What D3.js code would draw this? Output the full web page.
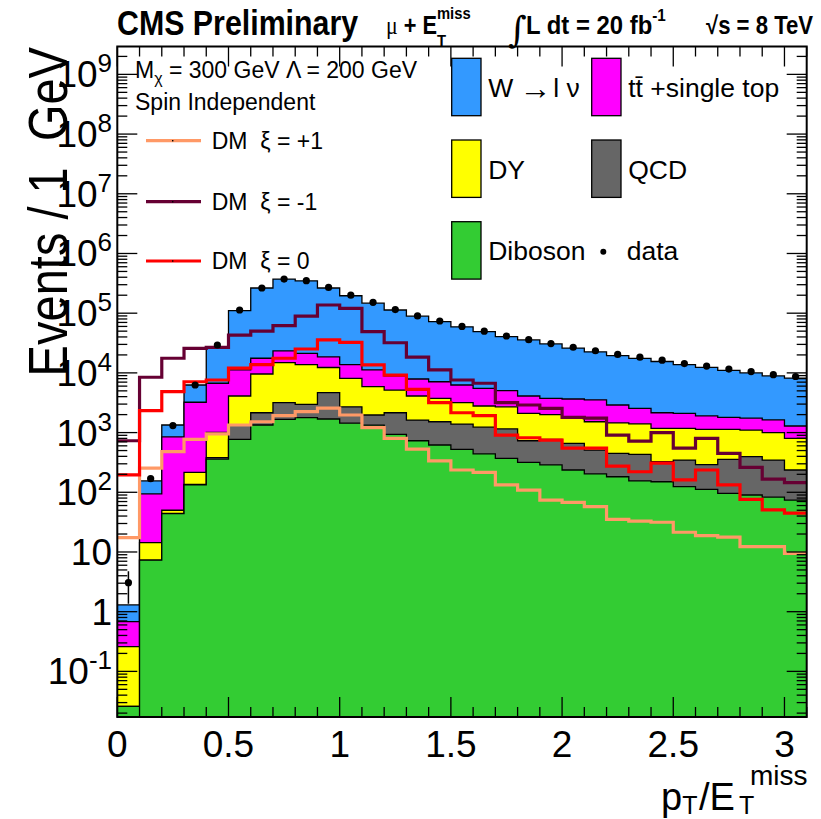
<!DOCTYPE html>
<html>
<head>
<meta charset="utf-8">
<script src="https://cdn.jsdelivr.net/npm/d3@7/dist/d3.min.js"></script>
<style>
  body { margin: 0; background: #fff; }
  svg text { font-family: "Liberation Sans", Arial, Helvetica, sans-serif; fill: #000; white-space: pre; }
</style>
</head>
<body>
<div id="chart"></div>
<script>
// bins of pT/ETmiss, width 0.1
const binLow = [0, 0.1, 0.2, 0.3, 0.4, 0.5, 0.6, 0.7, 0.8, 0.9, 1.0, 1.1, 1.2, 1.3, 1.4, 1.5,
  1.6, 1.7, 1.8, 1.9, 2.0, 2.1, 2.2, 2.3, 2.4, 2.5, 2.6, 2.7, 2.8, 2.9, 3.0]
const binWidth = 0.1

// backgrounds (events per bin), stacked bottom to top
const diboson = [0.026, 7.3, 44, 133, 360, 770, 1340, 1670, 1780, 1690, 1440, 1330, 935, 730, 620, 525,
  440, 370, 318, 287, 236, 203, 182, 155, 150, 124, 112, 96, 90, 83, 74]
const qcd = [0, 0, 0.5, 2, 20, 570, 810, 1500, 1190, 2990, 1260, 640, 1215, 890, 900, 865,
  790, 780, 412, 483, 424, 307, 268, 278, 175, 223, 178, 259, 305, 264, 162]
const dy = [0.234, 7.0, 5.5, 81, 630, 2760, 7420, 11630, 10830, 7620, 5400, 3930, 3000, 2480, 2220, 1780,
  1560, 1550, 1370, 1230, 1080, 1010, 1000, 967, 855, 833, 840, 775, 705, 653, 564]
const ttbar = [0.42, 79.7, 800, 3004, 5690, 7100, 8030, 8500, 7500, 6300, 5700, 5300, 3750, 3800, 3360, 3100,
  2710, 2340, 2000, 1740, 1910, 2020, 1450, 1150, 970, 920, 770, 670, 640, 630, 490]
const wjets = [0.62, 61, 490, 3050, 20800, 98800, 246400, 348700, 326700, 245400, 182200, 135800, 104100, 81100, 64900, 52730,
  43500, 35460, 31500, 26800, 22350, 18960, 16600, 14950, 13350, 11600, 10500, 9200, 8260, 7270, 6900]

// data
const data = [3.06, 169, 1310, 6270, 29300, 113000, 264000, 372000, 350000, 270000, 200000, 152000, 115000, 90000, 74000, 60000,
  50000, 41500, 36000, 31000, 26900, 23500, 20400, 18300, 16300, 14300, 13000, 11600, 10500, 9330, 8700]
const dataErr = [1.7, 13, 36, 79, 171, 336, 514, 610, 592, 520, 447, 390, 339, 300, 272, 245,
  224, 204, 190, 176, 164, 153, 143, 135, 128, 120, 114, 108, 102, 97, 93]

// signal, DM xi = +1, -1, 0
const dmPlus1 = [17.4, 253, 480, 770, 950, 1340, 1520, 1920, 2240, 2560, 1970, 1210, 800, 530, 335, 236,
  216, 133, 109, 74, 68, 57.5, 35.3, 33, 31.5, 21.4, 18.8, 17.7, 12.3, 12.3, 9.5]
const dmMinus1 = [730, 8450, 17600, 25800, 26700, 43000, 50000, 62000, 89000, 137000, 120000, 49000, 32000, 18300, 11200, 7600,
  6700, 3170, 2900, 2550, 1800, 1740, 910, 720, 1000, 550, 800, 450, 262, 166, 145]
const dmZero = [196, 2330, 4840, 7100, 7600, 12000, 13800, 17600, 25100, 35600, 32500, 13600, 9200, 5300, 3170, 2150,
  1920, 910, 820, 750, 550, 550, 275, 221, 308, 161, 236, 133, 76, 50.6, 44.6]

const xTickLabels = [0, 0.5, 1, 1.5, 2, 2.5, 3]
const yDecades = [-1, 0, 1, 2, 3, 4, 5, 6, 7, 8, 9]

const W = 821, H = 819
const pLeft = 117.3, pRight = 806.7, pTop = 46.5, pBottom = 717

const svg = d3.select("#chart").append("svg")
  .attr("width", W).attr("height", H)

const x = d3.scaleLinear().domain([0, 3.1]).range([pLeft, pRight])
const yMin = Math.pow(10, -1.764), yMax = Math.pow(10, 9.467)
const y = d3.scaleLog().domain([yMin, yMax]).range([pBottom, pTop])
const yc = v => y(Math.min(Math.max(v, yMin), yMax))

// stack
const keys = ["diboson", "qcd", "dy", "ttbar", "wjets"]
const colors = { diboson: "#33cc33", qcd: "#666666", dy: "#ffff00", ttbar: "#ff00ff", wjets: "#3399ff" }
const rows = binLow.map((b, i) => ({
  lo: b, diboson: diboson[i], qcd: qcd[i], dy: dy[i], ttbar: ttbar[i], wjets: wjets[i]
}))
const series = d3.stack().keys(keys)(rows)

const clip = svg.append("clipPath").attr("id", "plot")
clip.append("rect").attr("x", pLeft).attr("y", pTop).attr("width", pRight - pLeft).attr("height", pBottom - pTop)

const g = svg.append("g").attr("clip-path", "url(#plot)")

// closed step outline of a histogram from the x axis
function stepArea(vals) {
  const pts = [[x(binLow[0]), pBottom + 5]]
  vals.forEach((v, i) => {
    pts.push([x(binLow[i]), yc(v)])
    pts.push([x(binLow[i] + binWidth), yc(v)])
  })
  pts.push([x(binLow[vals.length - 1] + binWidth), pBottom + 5])
  return d3.line()(pts) + "Z"
}
function stepLine(vals) {
  const pts = []
  vals.forEach((v, i) => {
    pts.push([x(binLow[i]), yc(v)])
    pts.push([x(binLow[i] + binWidth), yc(v)])
  })
  return d3.line()(pts)
}

// draw the cumulative histograms from the top one down
series.slice().reverse().forEach(s => {
  g.append("path")
    .attr("d", stepArea(s.map(d => d[1])))
    .attr("fill", colors[s.key])
    .attr("stroke", "#000")
    .attr("stroke-width", 1.3)
})

// signal lines
const dmLines = [
  { vals: dmPlus1, color: "#ff9966" },
  { vals: dmMinus1, color: "#660033" },
  { vals: dmZero, color: "#ff0000" }
]
dmLines.forEach(l => {
  g.append("path")
    .attr("d", stepLine(l.vals))
    .attr("fill", "none")
    .attr("stroke", l.color)
    .attr("stroke-width", 3.2)
})

// data points
const gd = g.append("g")
data.forEach((v, i) => {
  const cx = x(binLow[i] + binWidth / 2)
  gd.append("line")
    .attr("x1", cx).attr("x2", cx)
    .attr("y1", yc(v - dataErr[i])).attr("y2", yc(v + dataErr[i]))
    .attr("stroke", "#000").attr("stroke-width", 1.5)
  gd.append("circle").attr("cx", cx).attr("cy", yc(v)).attr("r", 3.6).attr("fill", "#000")
})

// frame and ticks
const axes = svg.append("g").attr("stroke", "#000").attr("stroke-width", 1.3)
binLow.concat([3.1]).forEach(b => {
  const major = Math.abs(b * 2 - Math.round(b * 2)) < 1e-6
  const len = major ? 20 : 10
  axes.append("line").attr("x1", x(b)).attr("x2", x(b)).attr("y1", pBottom).attr("y2", pBottom - len)
  axes.append("line").attr("x1", x(b)).attr("x2", x(b)).attr("y1", pTop).attr("y2", pTop + len)
})
const yMinor = []
for (let d = -2; d <= 9; d++) {
  for (let m = 2; m <= 9; m++) yMinor.push(m * Math.pow(10, d))
}
yMinor.filter(v => v > yMin && v < yMax).forEach(v => {
  axes.append("line").attr("x1", pLeft).attr("x2", pLeft + 10).attr("y1", y(v)).attr("y2", y(v))
  axes.append("line").attr("x1", pRight).attr("x2", pRight - 10).attr("y1", y(v)).attr("y2", y(v))
})
yDecades.forEach(d => {
  const v = Math.pow(10, d)
  axes.append("line").attr("x1", pLeft).attr("x2", pLeft + 20).attr("y1", y(v)).attr("y2", y(v))
  axes.append("line").attr("x1", pRight).attr("x2", pRight - 20).attr("y1", y(v)).attr("y2", y(v))
})
svg.append("rect")
  .attr("x", pLeft).attr("y", pTop).attr("width", pRight - pLeft).attr("height", pBottom - pTop)
  .attr("fill", "none").attr("stroke", "#000").attr("stroke-width", 2)

// tick labels
svg.selectAll(".xlab").data(xTickLabels).enter().append("text")
  .attr("class", "xlab")
  .attr("x", d => x(d)).attr("y", 757)
  .attr("text-anchor", "middle")
  .style("font-size", "37px")
  .text(d => d)

yDecades.forEach(d => {
  const t = svg.append("text")
    .attr("x", 112).attr("y", y(Math.pow(10, d)) + 13)
    .attr("text-anchor", "end")
    .style("font-size", "37px")
  if (d === 0) t.text("1")
  else if (d === 1) t.text("10")
  else {
    t.append("tspan").text("10")
    t.append("tspan").attr("dy", -15).style("font-size", "26px").text(d)
  }
})

// axis titles
svg.append("text")
  .attr("transform", "translate(67,47) rotate(-90) scale(0.84,1)")
  .attr("text-anchor", "end")
  .style("font-size", "56px")
  .text("Events / 1  GeV")

const xt = svg.append("text").attr("x", 661).attr("y", 810).style("font-size", "38px")
xt.append("tspan").text("p")
xt.append("tspan").attr("dy", 4).style("font-size", "25px").text("T")
xt.append("tspan").attr("x", 699).attr("dy", -4).text("/E")
xt.append("tspan").attr("x", 739).attr("dy", 4).style("font-size", "25px").text("T")
xt.append("tspan").attr("x", 750).attr("dy", -29).style("font-size", "28px").text("miss")

// header, condensed like the original
svg.append("text").attr("transform", "translate(117,35) scale(0.867,1)")
  .style("font-size", "35px").style("font-weight", "bold")
  .text("CMS Preliminary")
const h2 = svg.append("text").attr("transform", "translate(386,34) scale(0.87,1)")
  .style("font-size", "25px").style("font-weight", "bold")
h2.append("tspan").style("font-family", "'Liberation Serif', serif").style("font-weight", "normal").text("\u03bc")
h2.append("tspan").text(" + E")
h2.append("tspan").attr("dy", -15).style("font-size", "17px").text("miss")
h2.append("tspan").attr("dx", -38.7).attr("dy", 28).style("font-size", "17px").text("T")
svg.append("text").attr("x", 508).attr("y", 42)
  .style("font-family", "'DejaVu Serif', serif").style("font-size", "36px").text("\u222b")
const h3 = svg.append("text").attr("transform", "translate(526,34) scale(0.955,1)")
  .style("font-size", "25px").style("font-weight", "bold")
h3.append("tspan").text("L dt = 20 fb")
h3.append("tspan").attr("dy", -13).style("font-size", "16px").text("-1")
svg.append("text").attr("transform", "translate(706,34) scale(0.886,1)")
  .style("font-size", "25px").style("font-weight", "bold")
  .text("\u221as = 8 TeV")

// model info
const m = svg.append("text").attr("x", 135).attr("y", 78).style("font-size", "23px")
m.append("tspan").text("M")
m.append("tspan").attr("dy", 6).style("font-size", "16px").text("\u03c7")
m.append("tspan").attr("dy", -6).text(" = 300 GeV \u039b = 200 GeV")
svg.append("text").attr("x", 135).attr("y", 110).style("font-size", "23px").text("Spin Independent")

// signal legend
const sigLegend = [
  { label: "DM  \u03be = +1", color: "#ff9966", yy: 140.7 },
  { label: "DM  \u03be = -1", color: "#660033", yy: 201.7 },
  { label: "DM  \u03be = 0", color: "#ff0000", yy: 261 }
]
sigLegend.forEach(l => {
  svg.append("line").attr("x1", 146).attr("x2", 201).attr("y1", l.yy).attr("y2", l.yy)
    .attr("stroke", l.color).attr("stroke-width", 3.2)
  svg.append("rect").attr("x", 172).attr("y", l.yy - 0.7).attr("width", 1.4).attr("height", 1.4).attr("fill", "#000")
  svg.append("text").attr("x", 211.7).attr("y", l.yy + 8).style("font-size", "23px").text(l.label)
})

// background legend
const bkgLegend = [
  { label: "W \u2192 l \u03bd", color: colors.wjets, bx: 451.7, by: 58.3 },
  { label: "tt\u0304 +single top", color: colors.ttbar, bx: 591.7, by: 58.3 },
  { label: "DY", color: colors.dy, bx: 451.7, by: 140 },
  { label: "QCD", color: colors.qcd, bx: 591.7, by: 140 },
  { label: "Diboson", color: colors.diboson, bx: 451.7, by: 221.7 }
]
bkgLegend.forEach(l => {
  svg.append("rect").attr("x", l.bx).attr("y", l.by).attr("width", 29.3).attr("height", 57.4)
    .attr("fill", l.color).attr("stroke", "#000").attr("stroke-width", 1.3)
  const t = svg.append("text").attr("x", l.bx + 36.5).attr("y", l.by + 38.5).style("font-size", "26.5px")
  if (l.label.includes("\u2192")) {
    const parts = l.label.split("\u2192")
    t.append("tspan").text(parts[0].trim())
    t.append("tspan").attr("dx", 6).attr("dy", 2).style("font-size", "32px").text("\u2192")
    t.append("tspan").attr("dx", 2).attr("dy", -2).text(parts[1].trim())
  } else {
    t.text(l.label)
  }
})
svg.append("circle").attr("cx", 603.3).attr("cy", 251.7).attr("r", 3).attr("fill", "#000")
svg.append("text").attr("x", 626.7).attr("y", 260.2).style("font-size", "26.5px").text("data")
</script>
</body>
</html>
